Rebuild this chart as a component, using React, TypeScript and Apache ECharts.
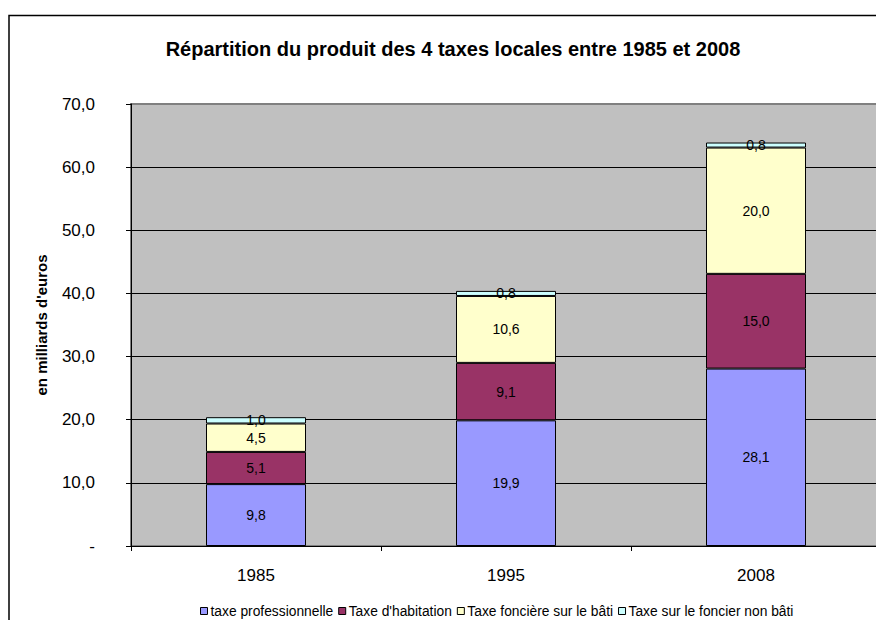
import React, { useEffect, useRef } from "react";
import * as echarts from "echarts";

const categories = ["1985", "1995", "2008"];
const seriesNames = [
  "taxe professionnelle",
  "Taxe d'habitation",
  "Taxe foncière sur le bâti",
  "Taxe sur le foncier non bâti",
];
const taxePro = [9.8, 19.9, 28.1];
const taxeHab = [5.1, 9.1, 15.0];
const fonciereBati = [4.5, 10.6, 20.0];
const fonciereNonBati = [1.0, 0.8, 0.8];
const colors = ["#9999FF", "#993366", "#FFFFCC", "#CCFFFF"];

const FONT = "'Liberation Sans', Arial, sans-serif";

export default function App() {
  const ref = useRef<HTMLDivElement>(null);
  useEffect(() => {
    if (!ref.current) return;
    document.documentElement.style.overflow = "hidden";
    document.body.style.overflow = "hidden";
    const chart = echarts.init(ref.current, null, { renderer: "svg" });
    const values = [taxePro, taxeHab, fonciereBati, fonciereNonBati];
    const fmt = (v: number) => v.toFixed(1).replace(".", ",");
    chart.setOption({
      animation: false,
      backgroundColor: "#FFFFFF",
      textStyle: { fontFamily: FONT },
      title: {
        text: "Répartition du produit des 4 taxes locales entre 1985 et 2008",
        left: 448,
        textAlign: "center",
        top: 34,
        textStyle: { fontFamily: FONT, fontSize: 20, fontWeight: "bold", color: "#000" },
      },
      graphic: [
        {
          type: "polyline",
          shape: { points: [[9, 700], [9, 15.5], [1000, 15.5]] },
          style: { fill: "none", stroke: "#000", lineWidth: 1.5 },
          z: 100,
          silent: true,
        },
      ],
      legend: {
        left: 195,
        top: 599,
        itemWidth: 7,
        itemHeight: 7,
        itemGap: 5,
        icon: "rect",
        textStyle: { fontFamily: FONT, fontSize: 13.8, color: "#000", padding: [0, 0, 0, -2] },
        data: seriesNames.map((n) => ({ name: n, itemStyle: { borderColor: "#000", borderWidth: 1 } })),
      },
      grid: {
        left: 131,
        top: 104,
        width: 750,
        height: 442,
        outerBoundsMode: "none",
        containLabel: false,
        show: true,
        backgroundColor: "#C0C0C0",
        borderColor: "#808080",
        borderWidth: 2,
      },
      xAxis: {
        type: "category",
        data: categories,
        axisLine: { lineStyle: { color: "#000", width: 1 } },
        axisTick: { show: true, length: 5, lineStyle: { color: "#000" } },
        axisLabel: { fontFamily: FONT, fontSize: 17, color: "#000", margin: 21 },
      },
      yAxis: {
        type: "value",
        min: 0,
        max: 70,
        interval: 10,
        name: "en milliards d'euros",
        nameLocation: "middle",
        nameGap: 82,
        nameTextStyle: { fontFamily: FONT, fontSize: 15, fontWeight: "bold", color: "#000" },
        axisLine: { show: true, lineStyle: { color: "#000", width: 1 } },
        axisTick: { show: true, length: 5, lineStyle: { color: "#000" } },
        splitLine: { show: true, showMaxLine: false, lineStyle: { color: "#000", width: 1 } },
        axisLabel: {
          fontFamily: FONT,
          fontSize: 17,
          color: "#000",
          margin: 36,
          formatter: (v: number) => (v === 0 ? "-" : fmt(v)),
        },
      },
      series: seriesNames.map((name, i) => ({
        name,
        type: "bar",
        stack: "total",
        barWidth: 100,
        data: values[i],
        itemStyle: { color: colors[i], borderColor: "#000", borderWidth: 1 },
        label: {
          show: true,
          position: "inside",
          fontFamily: FONT,
          fontSize: 14,
          color: "#000",
          formatter: (p: any) => fmt(p.value),
        },
      })),
    });
    return () => chart.dispose();
  }, []);
  return (
    <div
      ref={ref}
      style={{ position: "absolute", left: 0, top: 0, width: 876, height: 620 }}
    />
  );
}
